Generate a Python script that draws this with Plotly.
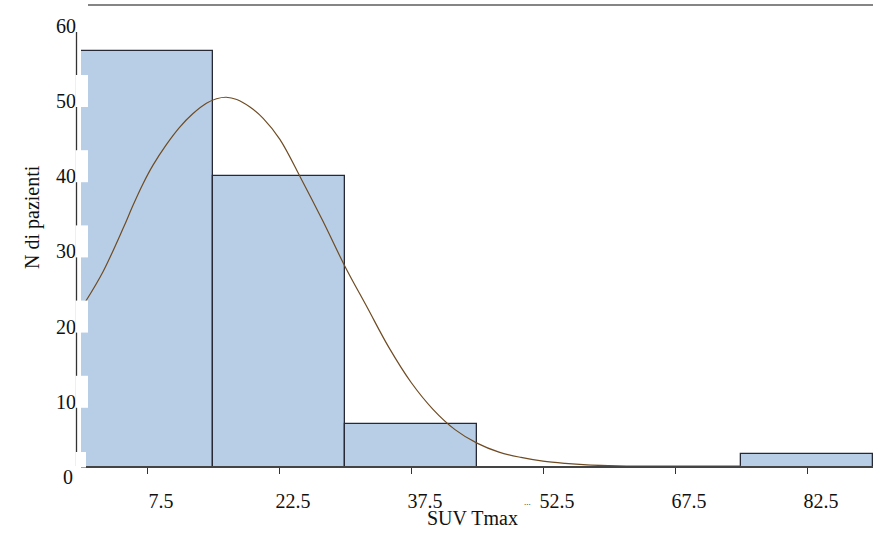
import plotly.graph_objects as go

# ---- data ----
bin_centers = [7.5, 22.5, 37.5, 52.5, 67.5, 82.5]
counts = [56.6, 40, 7, 0, 0, 3.1]
bin_width = 15
x_tick_vals = [7.5, 22.5, 37.5, 52.5, 67.5, 82.5]
x_tick_text = ["7.5", "22.5", "37.5", "52.5", "67.5", "82.5"]
y_tick_vals = [10, 20, 30, 40, 50, 60]
y_tick_text = ["10", "20", "30", "40", "50", "60"]

curve_x = [0.5, 2.5, 4.8, 5.9, 7.05, 8.2, 9.7, 11.2, 12.7, 14.25, 15.4, 16.5, 17.7,
           19.2, 20.7, 22.6, 25.0, 27.5, 30.0, 32.5, 35.0, 37.5, 40.0, 42.5, 45.0,
           47.5, 50.0, 52.5, 55.0, 57.5, 60.0, 62.0, 75.0]
curve_y = [23.3, 27.3, 33.1, 36.1, 39.0, 41.5, 44.2, 46.5, 48.3, 49.7, 50.3, 50.5, 50.2,
           49.2, 47.7, 44.9, 39.7, 34.0, 28.0, 22.6, 17.2, 12.6, 9.0, 6.3, 4.5,
           3.3, 2.6, 2.1, 1.8, 1.6, 1.5, 1.46, 1.46]

x_title = "SUV Tmax"
y_title = "N di pazienti"

FONT = "Liberation Serif, Times New Roman, serif"
W, H = 873, 533
L, R, T, B = 81, 0, 5, 67
plot_w = W - L - R
plot_h = H - T - B
y_min, y_max = 1.46, 62.77
px_per_unit = plot_h / (y_max - y_min)


def px_x(p):
    return (p - L) / plot_w


def px_y(p):
    return (H - B - p) / plot_h


fig = go.Figure()
fig.add_trace(go.Bar(
    x=bin_centers, y=counts, width=bin_width,
    marker=dict(color="#b8cee6", line=dict(color="#262a36", width=1.3)),
    showlegend=False,
))
fig.add_trace(go.Scatter(
    x=curve_x, y=curve_y, mode="lines",
    line=dict(color="#6e4b22", width=1.2, shape="spline", smoothing=1.0),
    showlegend=False,
))

shapes = []
# outer y axis line
shapes.append(dict(type="line", xref="paper", yref="paper",
                   x0=px_x(76.5), x1=px_x(76.5), y0=0, y1=px_y(32),
                   line=dict(color="#333333", width=1.3), layer="above"))
# top line
shapes.append(dict(type="line", xref="paper", yref="paper",
                   x0=px_x(88), x1=1, y0=1, y1=1,
                   line=dict(color="#5c5c5c", width=1.6), layer="above"))
# white patches behind tick labels
for v in [10, 20, 30, 40, 50]:
    shapes.append(dict(type="rect", xref="paper", yref="y",
                       x0=px_x(75.5), x1=px_x(88), y0=v - 6 / px_per_unit, y1=v + 26 / px_per_unit,
                       fillcolor="white", line=dict(width=0), layer="above"))
shapes.append(dict(type="rect", xref="paper", yref="paper",
                   x0=px_x(75.5), x1=px_x(86), y0=px_y(467.5), y1=px_y(452),
                   fillcolor="white", line=dict(width=0), layer="above"))

annotations = [
    dict(text="0", xref="paper", yref="paper", x=px_x(75), y=px_y(477), xanchor="right",
         yanchor="middle", showarrow=False, font=dict(family=FONT, size=20, color="#111")),
    dict(text=y_title, xref="paper", yref="paper", x=px_x(32), y=px_y(217), textangle=-90,
         xanchor="center", yanchor="middle", showarrow=False,
         font=dict(family=FONT, size=20, color="#111")),
    dict(text=x_title, xref="paper", yref="paper", x=px_x(472), y=px_y(518),
         xanchor="center", yanchor="middle", showarrow=False,
         font=dict(family=FONT, size=20, color="#111")),
    dict(text="...", xref="paper", yref="paper", x=px_x(527), y=px_y(502),
         xanchor="center", yanchor="middle", showarrow=False,
         font=dict(family=FONT, size=9, color="#222")),
]

fig.update_layout(
    width=W, height=H,
    margin=dict(l=L, r=R, t=T, b=B, pad=0),
    paper_bgcolor="white", plot_bgcolor="white",
    bargap=0,
    shapes=shapes, annotations=annotations,
    xaxis=dict(range=[0, 90], tickmode="array", tickvals=x_tick_vals, ticktext=x_tick_text,
               ticks="outside", ticklen=6, tickwidth=1.2, tickcolor="#333",
               showline=True, linecolor="#444", linewidth=1.5,
               showgrid=False, zeroline=False, ticklabelstandoff=10, ticklabelshift=14,
               tickfont=dict(family=FONT, size=20, color="#111")),
    yaxis=dict(range=[y_min, y_max], tickmode="array", tickvals=y_tick_vals, ticktext=y_tick_text,
               ticks="", showline=False, showgrid=False, zeroline=False, ticklabelstandoff=4,
               tickfont=dict(family=FONT, size=20, color="#111")),
)

fig.write_html("out.html")
